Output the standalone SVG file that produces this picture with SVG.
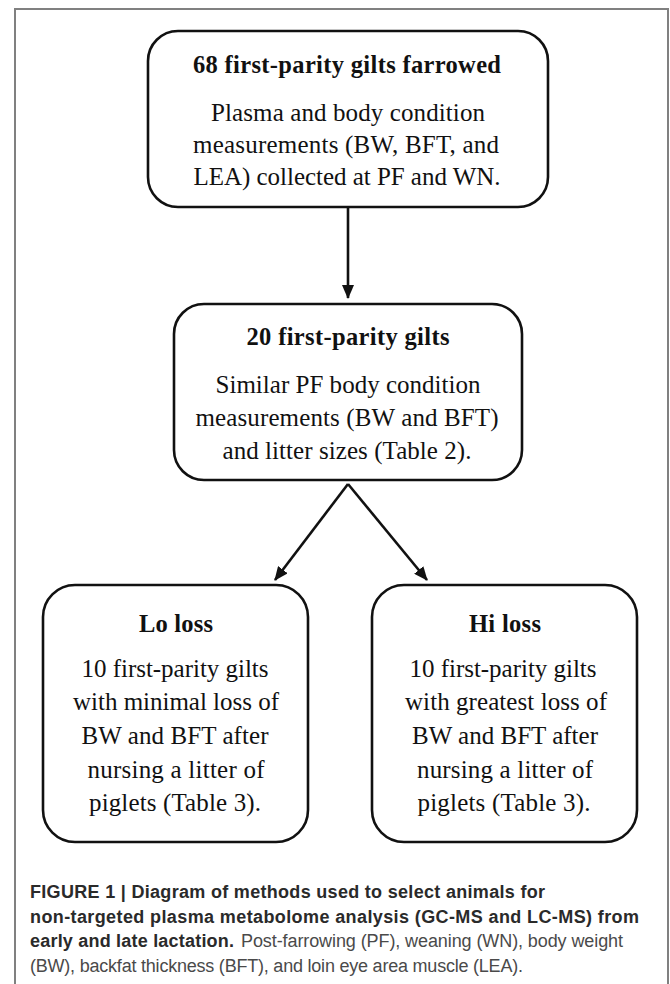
<svg xmlns="http://www.w3.org/2000/svg" width="670" height="984" viewBox="0 0 670 984">
  <defs>
    <marker id="ah" markerUnits="userSpaceOnUse" markerWidth="14" markerHeight="12" refX="13" refY="6" orient="auto">
      <path d="M0,0 L14,6 L0,12 z" fill="#111"/>
    </marker>
    <style>
      .box { fill: #fff; stroke: #111; stroke-width: 2.6; }
      .ttl { font-family: "Liberation Serif", "Times New Roman", serif; font-weight: bold; font-size: 24.5px; fill: #111; text-anchor: middle; }
      .txt { font-family: "Liberation Serif", "Times New Roman", serif; font-size: 25px; fill: #111; text-anchor: middle; }
      .conn { stroke: #111; stroke-width: 2.6; fill: none; }
      .capb { font-family: "Liberation Sans", Arial, sans-serif; font-weight: bold; font-size: 18px; fill: #2a2a2a; }
      .capr { font-family: "Liberation Sans", Arial, sans-serif; font-size: 18px; fill: #4a4a4a; }
    </style>
  </defs>
  <rect width="670" height="984" fill="#fff"/>
  <path d="M15,984 V9 H668 V984" fill="none" stroke="#808080" stroke-width="2"/>

  <g id="connectors">
    <line class="conn" x1="348" y1="208" x2="348" y2="298" marker-end="url(#ah)"/>
    <line class="conn" x1="348" y1="484" x2="275" y2="580" marker-end="url(#ah)"/>
    <line class="conn" x1="348" y1="484" x2="427" y2="580" marker-end="url(#ah)"/>
  </g>

  <g id="node-68">
    <rect class="box" x="148" y="31" width="400" height="176" rx="30" ry="30"/>
    <text class="ttl" x="347" y="73" textLength="308">68 first-parity gilts farrowed</text>
    <text class="txt" x="348" y="121" textLength="274">Plasma and body condition</text>
    <text class="txt" x="346" y="153" textLength="306">measurements (BW, BFT, and</text>
    <text class="txt" x="347" y="185" textLength="307">LEA) collected at PF and WN.</text>
  </g>

  <g id="node-20">
    <rect class="box" x="174" y="304" width="348" height="176" rx="30" ry="30"/>
    <text class="ttl" x="348" y="345" textLength="203">20 first-parity gilts</text>
    <text class="txt" x="348" y="393" textLength="265">Similar PF body condition</text>
    <text class="txt" x="347" y="426" textLength="303">measurements (BW and BFT)</text>
    <text class="txt" x="347" y="459" textLength="249">and litter sizes (Table 2).</text>
  </g>

  <g id="node-lo">
    <rect class="box" x="43" y="585" width="265" height="257" rx="32" ry="32"/>
    <text class="ttl" x="176" y="632" textLength="74">Lo loss</text>
    <text class="txt" x="175" y="677" textLength="187">10 first-parity gilts</text>
    <text class="txt" x="176" y="710" textLength="206">with minimal loss of</text>
    <text class="txt" x="175" y="744" textLength="187">BW and BFT after</text>
    <text class="txt" x="176" y="778" textLength="177">nursing a litter of</text>
    <text class="txt" x="175" y="811" textLength="172">piglets (Table 3).</text>
  </g>

  <g id="node-hi">
    <rect class="box" x="372" y="585" width="265" height="257" rx="32" ry="32"/>
    <text class="ttl" x="505" y="632" textLength="72">Hi loss</text>
    <text class="txt" x="503" y="677" textLength="187">10 first-parity gilts</text>
    <text class="txt" x="506" y="710" textLength="202">with greatest loss of</text>
    <text class="txt" x="505" y="744" textLength="186">BW and BFT after</text>
    <text class="txt" x="505" y="778" textLength="176">nursing a litter of</text>
    <text class="txt" x="504" y="811" textLength="173">piglets (Table 3).</text>
  </g>

  <g id="caption">
    <text class="capb" x="30" y="898" textLength="515">FIGURE 1 | Diagram of methods used to select animals for</text>
    <text class="capb" x="30" y="923" textLength="609">non-targeted plasma metabolome analysis (GC-MS and LC-MS) from</text>
    <text class="capb" x="30" y="947" textLength="204">early and late lactation.</text>
    <text class="capr" x="241" y="947" textLength="382">Post-farrowing (PF), weaning (WN), body weight</text>
    <text class="capr" x="30" y="972" textLength="493">(BW), backfat thickness (BFT), and loin eye area muscle (LEA).</text>
  </g>
</svg>
